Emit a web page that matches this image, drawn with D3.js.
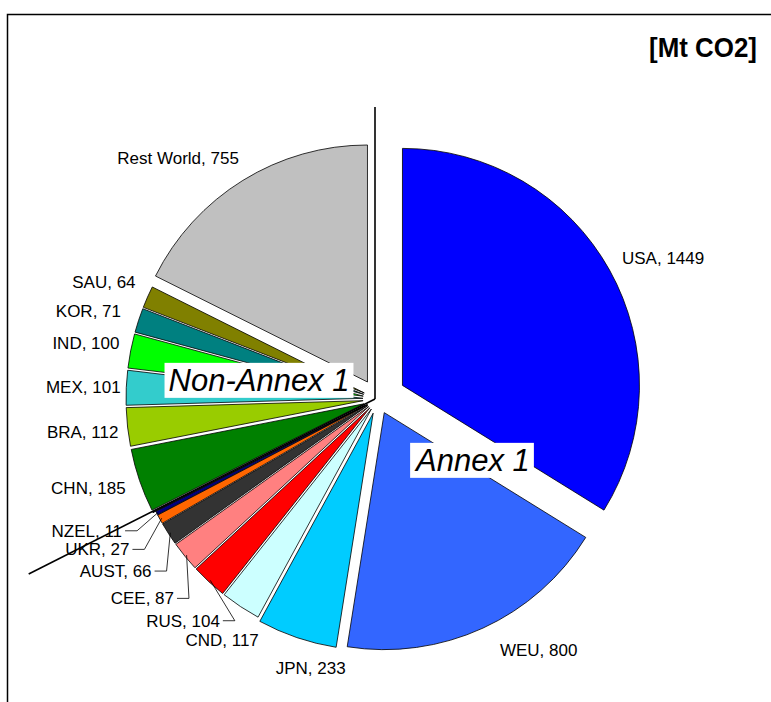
<!doctype html>
<html lang="en">
<head>
<meta charset="utf-8">
<title>CO2 emissions by region</title>
<script src="https://cdn.jsdelivr.net/npm/d3@7"></script>
<style>
  body { margin: 0; background: #fff; }
  text { font-family: "Liberation Sans", Arial, sans-serif; }
</style>
</head>
<body>
<div id="chart"></div>
<script>
// regions clockwise from 12 o'clock, Annex 1 first
var regions   = ["USA", "WEU", "JPN", "CND", "RUS", "CEE", "AUST", "UKR", "NZEL", "", "", "CHN", "BRA", "MEX", "IND", "KOR", "SAU", "Rest World"];
var emissions = [1449, 800, 233, 117, 104, 87, 66, 27, 11, 1, 1, 185, 112, 101, 100, 71, 64, 755];
var annex     = ["Annex 1", "Annex 1", "Annex 1", "Annex 1", "Annex 1", "Annex 1", "Annex 1", "Annex 1", "Annex 1",
                 "Non-Annex 1", "Non-Annex 1", "Non-Annex 1", "Non-Annex 1", "Non-Annex 1", "Non-Annex 1", "Non-Annex 1", "Non-Annex 1", "Non-Annex 1"];
var unit = "[Mt CO2]";

// styling
var colors = ["#0000FF", "#3366FF", "#00CCFF", "#CCFFFF", "#FF0000", "#FF8080", "#333333", "#FF6600", "#000080",
              "#FFFFFF", "#C0C0C0", "#008000", "#99CC00", "#33CCCC", "#00FF00", "#008080", "#808000", "#C0C0C0"];
var explode = { "USA": 28, "WEU": 15, "JPN": 15, "Rest World": 20 };
var explodeAnnex = 12, explodeNon = 15;
// label offsets from the default label position
var nudge = {
  "USA": [51, -11], "WEU": [49, 7], "JPN": [19, 15], "CND": [-8, 18], "RUS": [-13, 25], "CEE": [-28, 30],
  "AUST": [-37, 27], "UKR": [-46, 21], "NZEL": [-53, 9], "CHN": [-36, 2], "BRA": [-29, 3], "MEX": [-27, 0],
  "IND": [-29, -5], "KOR": [-35, -4], "SAU": [-29, -9], "Rest World": [-59, -13]
};
var leaders = ["RUS", "CEE", "AUST", "UKR", "NZEL"];

var width = 771, height = 702;
var cx = 378, cy = 399, radius = 237;

var svg = d3.select("#chart").append("svg")
  .attr("width", width).attr("height", height);

// chart frame (left and top edges visible)
svg.append("path")
  .attr("d", "M7.5," + height + "V14.5H" + width)
  .attr("fill", "none").attr("stroke", "black").attr("stroke-width", 1.5);

svg.append("text")
  .attr("x", 757).attr("y", 57)
  .attr("text-anchor", "end")
  .attr("textLength", 108).attr("lengthAdjust", "spacingAndGlyphs")
  .style("font-size", "27px").style("font-weight", "bold")
  .text(unit);

var data = regions.map(function (r, i) {
  return { name: r, value: emissions[i], group: annex[i], color: colors[i] };
});

var pie = d3.pie().value(function (d) { return d.value; }).sort(null);
var arcs = pie(data);
var arc = d3.arc().innerRadius(0).outerRadius(radius);

function dir(a) { return [Math.sin(a), -Math.cos(a)]; }
function offsetOf(d) {
  var e = explode[d.data.name];
  if (e === undefined) e = d.data.group === "Annex 1" ? explodeAnnex : explodeNon;
  var m = dir((d.startAngle + d.endAngle) / 2);
  return [m[0] * e, m[1] * e];
}

var g = svg.append("g").attr("transform", "translate(" + cx + "," + cy + ")");

g.selectAll("path.slice")
  .data(arcs)
  .enter()
  .append("path")
  .attr("class", "slice")
  .attr("transform", function (d) { var o = offsetOf(d); return "translate(" + o[0] + "," + o[1] + ")"; })
  .attr("d", arc)
  .attr("fill", function (d) { return d.data.color; })
  .attr("stroke", "black")
  .attr("stroke-width", 0.8)
  .attr("stroke-linejoin", "round");

// separator lines between Annex 1 and Non-Annex 1
var total = d3.sum(emissions);
var annexTotal = d3.sum(emissions.filter(function (v, i) { return annex[i] === "Annex 1"; }));
var sepAngle = annexTotal / total * 2 * Math.PI;
[[0, 292], [sepAngle, 388]].forEach(function (s) {
  var p = dir(s[0]);
  g.append("line")
    .attr("x1", -3).attr("y1", 0)
    .attr("x2", -3 + p[0] * s[1]).attr("y2", p[1] * s[1])
    .attr("stroke", "black").attr("stroke-width", 1.6);
});

// data labels
var labelR = radius + 31;
var labels = arcs.filter(function (d) { return d.data.name !== ""; });
labels.forEach(function (d) {
  var m = dir((d.startAngle + d.endAngle) / 2);
  var n = nudge[d.data.name] || [0, 0];
  var x = m[0] * labelR + n[0], y = m[1] * labelR + n[1];
  var t = g.append("text")
    .attr("x", x).attr("y", y)
    .attr("dy", "0.35em")
    .attr("text-anchor", "middle")
    .style("font-size", "17px")
    .text(d.data.name + ", " + d.data.value);
  if (leaders.indexOf(d.data.name) >= 0) {
    var bb = t.node().getBBox();
    var o = offsetOf(d);
    var tip = [m[0] * (radius - 2) + o[0], m[1] * (radius - 2) + o[1]];
    var x0 = bb.x + bb.width + 3;
    g.append("polyline")
      .attr("points", [[x0, y], [x0 + 12, y], tip].map(function (p) { return p.join(","); }).join(" "))
      .attr("fill", "none").attr("stroke", "black").attr("stroke-width", 0.8);
  }
});

// group annotations
function boxedLabel(text, x, y) {
  var t = g.append("text")
    .attr("x", x).attr("y", y).attr("dy", "0.35em")
    .attr("text-anchor", "middle")
    .style("font-size", "31px").style("font-style", "italic")
    .text(text);
  var bb = t.node().getBBox();
  g.insert("rect", function () { return t.node(); })
    .attr("x", bb.x - 4).attr("y", bb.y)
    .attr("width", bb.width + 8).attr("height", bb.height)
    .attr("fill", "white");
}
boxedLabel("Annex 1", 95, 61);
boxedLabel("Non-Annex 1", -119, -19);
</script>
</body>
</html>
